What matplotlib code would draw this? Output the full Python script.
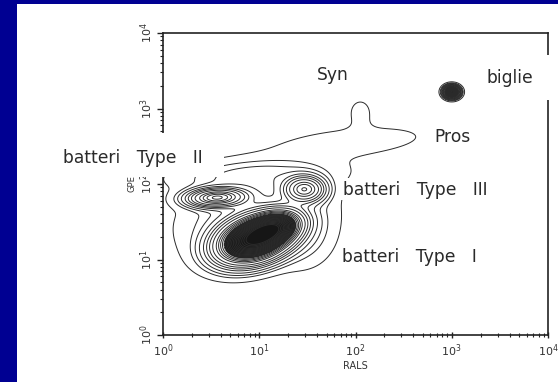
import numpy as np
import matplotlib.pyplot as plt
from matplotlib.patches import Rectangle

# populations on the log10(RALS) / log10(GPE) plane
pop_names = ["Type I", "Type I core", "Type II", "Type III", "biglie",
             "halo", "halo upper", "halo right", "Syn tail", "Syn peak"]
pop_u = [0.95, 1.17, 0.56, 1.47, 3.00, 0.95, 0.95, 1.45, 1.95, 2.05]
pop_v = [1.27, 1.43, 1.82, 1.93, 3.22, 1.58, 2.12, 1.35, 2.55, 2.95]
pop_su = [0.21, 0.15, 0.17, 0.12, 0.04, 0.42, 0.50, 0.20, 0.55, 0.10]
pop_sv = [0.17, 0.12, 0.07, 0.10, 0.04, 0.34, 0.13, 0.28, 0.15, 0.15]
pop_rho = [0.30, 0.25, 0.10, 0.00, 0.00, 0.25, 0.20, 0.00, 0.40, 0.00]
pop_w = [1.00, 0.55, 0.30, 0.25, 1.00, 0.030, 0.022, 0.015, 0.0085, 0.006]

contour_levels = [0.004, 0.012, 0.02, 0.032, 0.05, 0.07, 0.095, 0.13,
                  0.18, 0.22, 0.26, 0.30, 0.34, 0.38, 0.42, 0.46, 0.50,
                  0.55, 0.60, 0.65, 0.70, 0.75, 0.80, 0.86, 0.92, 0.98]
core_level = 0.36

decades = [1, 10, 100, 1000, 10000]
tick_text = [r"$10^{0}$", r"$10^{1}$", r"$10^{2}$", r"$10^{3}$", r"$10^{4}$"]

W, H = 558, 382
fig = plt.figure(figsize=(W / 100, H / 100), dpi=100)
ax = fig.add_axes([163 / W, 1 - 335 / H, 385 / W, 302 / H])

u = np.linspace(0, 4, 500)
v = np.linspace(0, 4, 500)
U, V = np.meshgrid(u, v)
dens = np.zeros_like(U)
for u0, v0, su, sv, r, w in zip(pop_u, pop_v, pop_su, pop_sv, pop_rho, pop_w):
    a = (U - u0) / su
    b = (V - v0) / sv
    q = (a * a - 2 * r * a * b + b * b) / (1 - r * r)
    dens += w * np.exp(-0.5 * q)

X, Y = 10 ** U, 10 ** V
# the densest cores print as solid black
ax.contourf(X, Y, dens, levels=[core_level, dens.max() + 1], colors=["#161616"])
ax.contour(X, Y, dens, levels=contour_levels, colors="#2b2b2b", linewidths=0.7)

ax.set_xscale("log")
ax.set_yscale("log")
ax.set_xlim(decades[0], decades[-1])
ax.set_ylim(decades[0], decades[-1])
ax.set_xticks(decades)
ax.set_xticklabels(tick_text)
ax.set_yticks(decades)
ax.set_yticklabels(tick_text, rotation=90, va="center")
ax.tick_params(axis="both", which="major", labelsize=8, labelcolor="#333333",
               color="#222222", length=4, width=1)
ax.tick_params(axis="both", which="minor", color="#222222", length=2.5, width=0.8)
ax.tick_params(axis="x", which="both", direction="inout")
ax.tick_params(axis="y", which="both", direction="out", pad=2)
ax.set_xlabel("RALS", fontsize=7, color="#333333", labelpad=1)
ax.set_ylabel("GPE", fontsize=6, color="#333333", labelpad=1)
for s in ax.spines.values():
    s.set_linewidth(1.2)
    s.set_color("#222222")

# white patches behind the labels
for x0, y0, x1, y1 in [(50, 133, 224, 177), (472, 55, 553, 100),
                       (425, 120, 495, 155), (338, 178, 500, 200),
                       (338, 246, 475, 268)]:
    fig.add_artist(Rectangle((x0 / W, 1 - y1 / H), (x1 - x0) / W, (y1 - y0) / H,
                             transform=fig.transFigure, facecolor="white",
                             edgecolor="none", zorder=3))

# blue frame
blue = "#000092"
fig.add_artist(Rectangle((0, 0), 17 / W, 1, transform=fig.transFigure,
                         facecolor=blue, edgecolor="none", zorder=5))
fig.add_artist(Rectangle((0, 1 - 4 / H), 1, 4 / H, transform=fig.transFigure,
                         facecolor=blue, edgecolor="none", zorder=5))

labels = [("Syn", 333, 75, "center"), ("biglie", 510, 78, "center"),
          ("Pros", 453, 137, "center"), ("batteri   Type   III", 343, 190, "left"),
          ("batteri   Type   I", 342, 257, "left"), ("batteri   Type   II", 63, 158, "left")]
for txt, px, py, ha in labels:
    fig.text(px / W, 1 - py / H, txt, ha=ha, va="center", fontsize=12.3,
             family="DejaVu Sans", color="#2a2a2a", zorder=4)

fig.savefig("out.png", dpi=100)
